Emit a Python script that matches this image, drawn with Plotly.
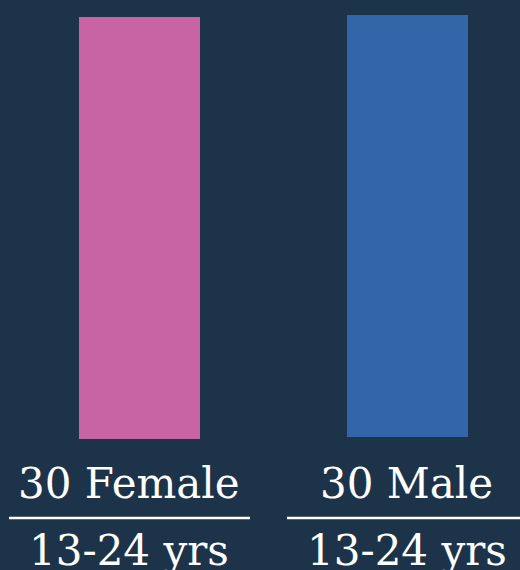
import plotly.graph_objects as go

categories = ["Female", "Male"]
counts = [30, 30]
age_labels = ["13-24 yrs", "13-24 yrs"]
colors = ["#c864a3", "#3365a9"]
BG = "#1d3349"

W, H = 520, 570
fig = go.Figure()
fig.add_trace(go.Bar(x=[0], y=[counts[0]], width=0.4515, marker_color=colors[0],
                     marker_line_width=0, xaxis="x", yaxis="y", hoverinfo="skip"))
fig.add_trace(go.Bar(x=[1], y=[counts[1]], width=0.4515, marker_color=colors[1],
                     marker_line_width=0, xaxis="x", yaxis="y2", hoverinfo="skip"))

font = dict(family="DejaVu Serif", color="white", size=42)
label_x = [128.5 / W, 406.5 / W]
annotations = []
for i, (c, n, a) in enumerate(zip(categories, counts, age_labels)):
    annotations.append(dict(x=label_x[i], y=1 - 483 / H, xref="paper", yref="paper",
                            text=f"{n} {c}", showarrow=False, font=font,
                            xanchor="center", yanchor="middle"))
    annotations.append(dict(x=label_x[i], y=1 - 550 / H, xref="paper", yref="paper",
                            text=a, showarrow=False, font=font,
                            xanchor="center", yanchor="middle"))

shapes = [
    dict(type="line", xref="paper", yref="paper", x0=9 / W, x1=250 / W,
         y0=1 - 518 / H, y1=1 - 518 / H, line=dict(color="white", width=2.5)),
    dict(type="line", xref="paper", yref="paper", x0=287 / W, x1=1.0,
         y0=1 - 518 / H, y1=1 - 518 / H, line=dict(color="white", width=2.5)),
]

fig.update_layout(
    width=W, height=H, margin=dict(l=0, r=0, t=0, b=0),
    paper_bgcolor=BG, plot_bgcolor="rgba(0,0,0,0)", showlegend=False,
    xaxis=dict(range=[-139.5 / 268, (W - 139.5) / 268], visible=False, fixedrange=True),
    yaxis=dict(range=[0, 30], domain=[(H - 439) / H, (H - 17) / H], visible=False),
    yaxis2=dict(range=[0, 30], domain=[(H - 437) / H, (H - 15) / H], visible=False, anchor="x"),
    annotations=annotations, shapes=shapes,
)
fig.write_html("out.html")
